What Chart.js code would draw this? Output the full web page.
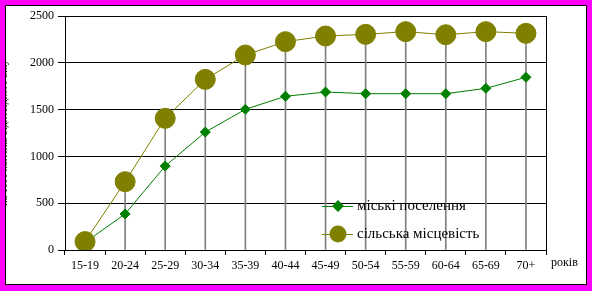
<!DOCTYPE html>
<html>
<head>
<meta charset="utf-8">
<script src="https://cdn.jsdelivr.net/npm/chart.js@4/dist/chart.umd.min.js"></script>
<style>
  html, body { margin: 0; padding: 0; background: #fff; }
  #wrap { width: 592px; height: 291px; position: relative; }
</style>
</head>
<body>
<div id="wrap"><canvas id="chart" width="592" height="291"></canvas></div>
<script>
// age groups on the x axis
const categories = ['15-19', '20-24', '25-29', '30-34', '35-39', '40-44', '45-49', '50-54', '55-59', '60-64', '65-69', '70+'];

// міські поселення
const urbanValues = [80, 385, 897, 1260, 1503, 1642, 1688, 1670, 1670, 1670, 1727, 1845];

// сільська місцевість
const ruralValues = [90, 730, 1407, 1823, 2083, 2226, 2286, 2304, 2333, 2300, 2333, 2315];

const seriesNames = ['міські поселення', 'сільська місцевість'];
const yMin = 0, yMax = 2500, yStep = 500;
const yTitle = 'на 1000 жителів відповідного віку';
const xUnit = 'років';

const GREEN = '#008000';
const OLIVE = '#808000';
const SERIF = '"Liberation Serif", "Times New Roman", serif';

// frame, right edge of the plot, axis texts and the legend
const decor = {
  id: 'decor',
  beforeDraw(chart) {
    const ctx = chart.ctx;
    ctx.save();
    ctx.fillStyle = '#fff';
    ctx.fillRect(0, 0, chart.width, chart.height);
    ctx.restore();
  },
  afterDraw(chart) {
    const ctx = chart.ctx;
    const a = chart.chartArea;
    ctx.save();

    // right side of plot box
    ctx.strokeStyle = '#000';
    ctx.lineWidth = 1;
    ctx.beginPath();
    ctx.moveTo(Math.round(a.right) + 0.5, a.top);
    ctx.lineTo(Math.round(a.right) + 0.5, a.bottom);
    ctx.stroke();

    // "років" next to the x axis
    ctx.fillStyle = '#000';
    ctx.font = '12px ' + SERIF;
    ctx.textAlign = 'left';
    ctx.textBaseline = 'middle';
    ctx.fillText(xUnit, a.right + 5, 263);

    // y title, mostly hidden under the border
    ctx.save();
    ctx.translate(4.5, (a.top + a.bottom) / 2);
    ctx.rotate(-Math.PI / 2);
    ctx.font = '10px ' + SERIF;
    ctx.textAlign = 'center';
    ctx.textBaseline = 'middle';
    ctx.fillText(yTitle, 0, 0);
    ctx.restore();

    // legend
    const lx = 322, tx = 357;
    const rows = [
      { y: 206, color: GREEN, shape: 'diamond' },
      { y: 234, color: OLIVE, shape: 'circle' }
    ];
    rows.forEach((r, i) => {
      ctx.strokeStyle = r.color;
      ctx.lineWidth = 1;
      ctx.beginPath();
      ctx.moveTo(lx, r.y + 0.5);
      ctx.lineTo(lx + 31, r.y + 0.5);
      ctx.stroke();
      ctx.fillStyle = r.color;
      ctx.beginPath();
      const cx = lx + 16;
      if (r.shape === 'diamond') {
        ctx.moveTo(cx - 6, r.y);
        ctx.lineTo(cx, r.y - 6);
        ctx.lineTo(cx + 6, r.y);
        ctx.lineTo(cx, r.y + 6);
        ctx.closePath();
      } else {
        ctx.arc(cx, r.y, 8.5, 0, Math.PI * 2);
      }
      ctx.fill();
      ctx.fillStyle = '#000';
      ctx.font = '15px ' + SERIF;
      ctx.textAlign = 'left';
      ctx.textBaseline = 'middle';
      ctx.fillText(seriesNames[i], tx, r.y);
    });

    // magenta frame with black inner line
    ctx.fillStyle = '#ff00ff';
    ctx.fillRect(0, 0, chart.width, 5);
    ctx.fillRect(0, 0, 5, chart.height);
    ctx.fillRect(chart.width - 5, 0, 5, chart.height);
    ctx.fillRect(0, chart.height - 6, chart.width, 6);
    ctx.strokeStyle = '#000';
    ctx.lineWidth = 1;
    ctx.strokeRect(5.5, 5.5, chart.width - 11, chart.height - 12);

    ctx.restore();
  }
};

new Chart(document.getElementById('chart'), {
  type: 'line',
  data: {
    labels: categories,
    datasets: [
      {
        label: seriesNames[1],
        data: ruralValues,
        borderColor: OLIVE,
        backgroundColor: OLIVE,
        borderWidth: 1,
        pointStyle: 'circle',
        pointRadius: 10,
        pointBorderWidth: 1,
        pointBorderColor: OLIVE,
        pointBackgroundColor: OLIVE,
        tension: 0,
        order: 0
      },
      {
        label: seriesNames[0],
        data: urbanValues,
        borderColor: GREEN,
        backgroundColor: GREEN,
        borderWidth: 1,
        pointStyle: 'rectRot',
        pointRadius: 5,
        pointBorderWidth: 1,
        pointBorderColor: GREEN,
        pointBackgroundColor: GREEN,
        tension: 0,
        order: 1
      },
      {
        // drop lines from the upper series down to the axis
        type: 'bar',
        label: 'drop',
        data: ruralValues,
        backgroundColor: '#808080',
        barThickness: 1,
        order: 2
      }
    ]
  },
  options: {
    responsive: false,
    animation: false,
    layout: { padding: { left: 0, top: 16, right: 46, bottom: 0 } },
    plugins: {
      legend: { display: false },
      tooltip: { enabled: false }
    },
    scales: {
      x: {
        offset: true,
        grid: {
          offset: true,
          drawOnChartArea: false,
          color: '#000',
          tickLength: 5,
          tickWidth: 1
        },
        border: { color: '#000', width: 1 },
        ticks: {
          color: '#000',
          font: { family: SERIF, size: 12 },
          padding: 4,
          maxRotation: 0,
          autoSkip: false
        },
        afterFit(scale) { scale.height = 41; }
      },
      y: {
        min: yMin,
        max: yMax,
        grid: {
          color: '#000',
          lineWidth: 1,
          tickLength: 7
        },
        border: { color: '#000', width: 1 },
        ticks: {
          stepSize: yStep,
          color: '#000',
          font: { family: SERIF, size: 12 },
          padding: 4,
          callback: (v) => String(v)
        },
        afterFit(scale) { scale.width = 65; }
      }
    }
  },
  plugins: [decor]
});
</script>
</body>
</html>
